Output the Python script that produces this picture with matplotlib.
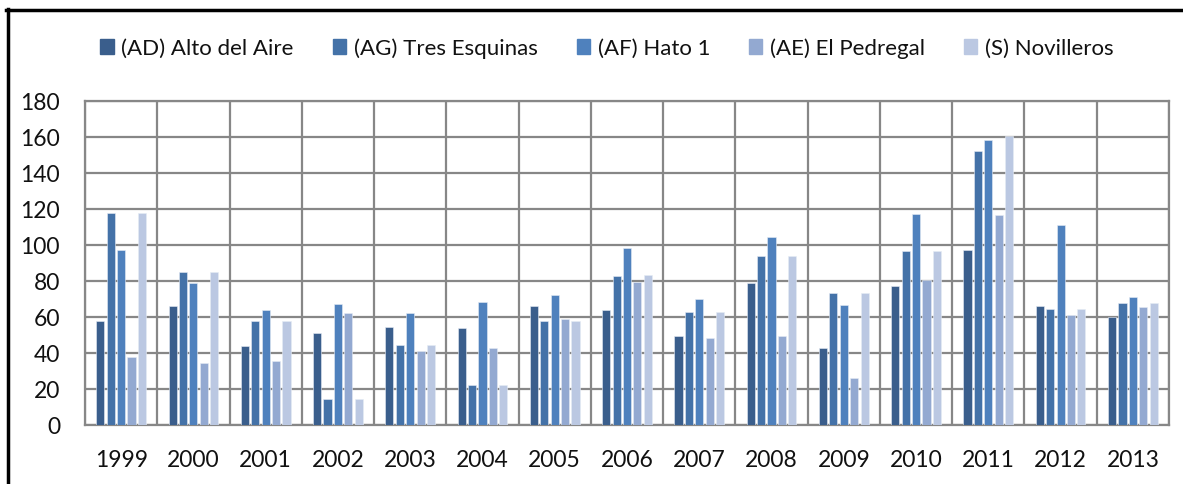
import matplotlib
matplotlib.use("Agg")
import matplotlib.pyplot as plt
import numpy as np
from matplotlib.lines import Line2D

years = ["1999", "2000", "2001", "2002", "2003", "2004", "2005", "2006",
         "2007", "2008", "2009", "2010", "2011", "2012", "2013"]
series_names = ["(AD) Alto del Aire", "(AG) Tres Esquinas", "(AF) Hato 1",
                "(AE) El Pedregal", "(S) Novilleros"]
alto_del_aire = [58, 66, 44, 51, 54.5, 54, 66, 64, 49.5, 79, 43, 77.5, 97.5, 66, 60]
tres_esquinas = [118, 85, 58, 14.5, 44.5, 22.5, 58, 83, 63, 94, 73.5, 96.5, 152.5, 64.5, 68]
hato_1 = [97, 79, 64, 67, 62, 68.5, 72.5, 98.5, 70, 104.5, 66.5, 117, 158.5, 111, 71]
el_pedregal = [38, 34.5, 35.5, 62, 41, 43, 59, 79.5, 48.5, 49.5, 26, 80.5, 116.5, 61, 65.5]
novilleros = [118, 85, 58, 14.5, 44.5, 22.5, 58, 83.5, 63, 94, 73.5, 96.5, 160.5, 64.5, 68]
series = [alto_del_aire, tres_esquinas, hato_1, el_pedregal, novilleros]
colors = ["#3A5E8C", "#4472A8", "#4F81BD", "#93A9D1", "#BBC8E2"]

plt.rcParams['font.family'] = ['Lato', 'DejaVu Sans']

fig = plt.figure(figsize=(11.83, 4.85), dpi=100)
W, H = 1183, 485
left, right, top, bottom = 85, 1169, 102, 426
ax = fig.add_axes([left / W, 1 - bottom / H, (right - left) / W, (bottom - top) / H])

x = np.arange(len(years))
step = 0.144
width = 0.112
for i, (vals, c) in enumerate(zip(series, colors)):
    ax.bar(x + (i - 2) * step, vals, width=width, color=c,
           edgecolor='#E6ECF5', linewidth=0.4, zorder=3, label=series_names[i])

ax.set_xlim(-0.5, len(years) - 0.5)
ax.set_ylim(0, 180)
ax.set_yticks(np.arange(0, 181, 20))
ax.set_xticks(x)
ax.set_xticklabels(years, fontsize=16.5, color='#111111')
ax.tick_params(axis='y', labelsize=16.5, colors='#111111', length=0, pad=18)
ax.tick_params(axis='x', length=0, pad=17)
for lab in ax.get_yticklabels():
    lab.set_horizontalalignment('right')

grid_c = '#878787'
ax.yaxis.grid(True, color=grid_c, linewidth=1.6, zorder=0)
for b in np.arange(-0.5, len(years), 1.0):
    ax.axvline(b, color=grid_c, linewidth=1.6, zorder=0)
for s in ax.spines.values():
    s.set_color(grid_c)
    s.set_linewidth(1.6)

handles = [plt.Rectangle((0, 0), 1, 1, color=c) for c in colors]
fig.legend(handles, series_names, loc='center', bbox_to_anchor=(607 / W, 1 - 49 / H),
           ncol=5, frameon=False, fontsize=16, handlelength=0.6, handleheight=0.6,
           handletextpad=0.35, columnspacing=1.75, labelcolor='#111111')

# black frame (left and top)
fig.add_artist(Line2D([7.5 / W, 7.5 / W], [0, 1 - 10 / H], transform=fig.transFigure,
                      color='black', linewidth=2.5))
fig.add_artist(Line2D([6.3 / W, 1], [1 - 11 / H, 1 - 11 / H], transform=fig.transFigure,
                      color='black', linewidth=2.5))

fig.savefig("out.png", dpi=100)
